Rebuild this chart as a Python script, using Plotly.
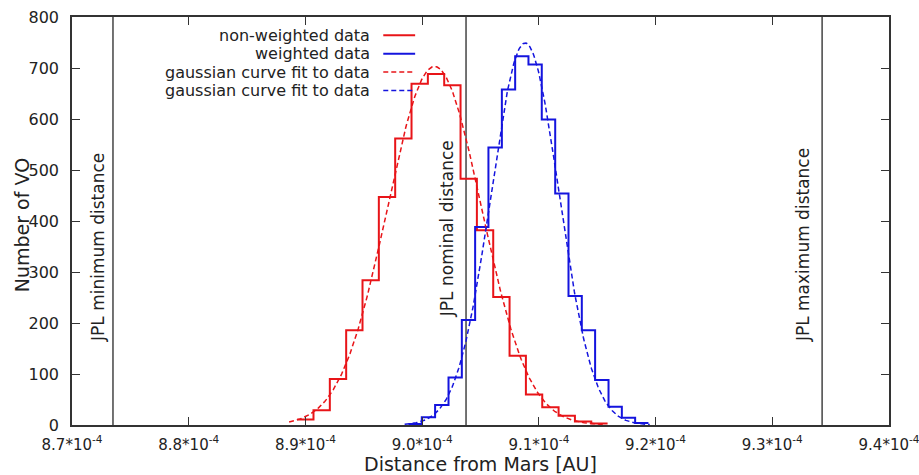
import numpy as np
import plotly.graph_objects as go

# histogram bin edges (AU) and counts
red_edges = [8.8929e-4, 8.9069e-4, 8.9209e-4, 8.9349e-4, 8.9489e-4, 8.9629e-4, 8.9769e-4,
             8.9909e-4, 9.0049e-4, 9.0189e-4, 9.0329e-4, 9.0469e-4, 9.0609e-4, 9.0749e-4,
             9.0889e-4, 9.1029e-4, 9.1169e-4, 9.1309e-4, 9.1449e-4, 9.1589e-4]
red_counts = [11, 29, 90, 186, 284, 447, 562, 669, 688, 666, 483, 382, 251, 136, 60, 35, 18, 7, 3]

blue_edges = [8.9883e-4, 8.9997e-4, 9.0111e-4, 9.0226e-4, 9.0340e-4, 9.0454e-4, 9.0568e-4,
              9.0683e-4, 9.0797e-4, 9.0911e-4, 9.1025e-4, 9.1140e-4, 9.1254e-4, 9.1368e-4,
              9.1482e-4, 9.1597e-4, 9.1711e-4, 9.1825e-4, 9.1939e-4]
blue_counts = [2, 15, 39, 93, 206, 388, 544, 658, 723, 707, 599, 454, 253, 186, 88, 36, 14, 4]

# gaussian fit parameters (amplitude, mean, sigma, plotted range)
red_fit_amp, red_fit_mu, red_fit_sigma = 703, 9.0106e-4, 4.03e-6
red_fit_range = [8.886e-4, 9.155e-4]
blue_fit_amp, blue_fit_mu, blue_fit_sigma = 749, 9.0882e-4, 2.91e-6
blue_fit_range = [8.985e-4, 9.195e-4]

# JPL reference distances
jpl_names = ["JPL minimum distance", "JPL nominal distance", "JPL maximum distance"]
jpl_values = [8.7351e-4, 9.0376e-4, 9.3427e-4]
jpl_label_y = [349, 384, 353]
jpl_label_shift = [-15, -19, -19]

x_ticks = [8.7e-4, 8.8e-4, 8.9e-4, 9.0e-4, 9.1e-4, 9.2e-4, 9.3e-4, 9.4e-4]
x_ticktext = ["8.7*10<sup>-4</sup>", "8.8*10<sup>-4</sup>", "8.9*10<sup>-4</sup>", "9.0*10<sup>-4</sup>",
              "9.1*10<sup>-4</sup>", "9.2*10<sup>-4</sup>", "9.3*10<sup>-4</sup>", "9.4*10<sup>-4</sup>"]

RED = "rgb(232,20,24)"
BLUE = "rgb(20,20,222)"
FONT = "DejaVu Sans"
TXT = "#222"


def gauss(amp, mu, sig, rng):
    x = np.linspace(rng[0], rng[1], 300)
    return x, amp * np.exp(-0.5 * ((x - mu) / sig) ** 2)


fig = go.Figure()

for v in jpl_values:
    fig.add_trace(go.Scatter(x=[v, v], y=[0, 800], mode="lines",
                             line=dict(color="#444", width=1.5), hoverinfo="skip"))

fig.add_trace(go.Scatter(x=red_edges, y=red_counts + red_counts[-1:], mode="lines",
                         line=dict(color=RED, width=2, shape="hv"), name="non-weighted data"))
fig.add_trace(go.Scatter(x=blue_edges, y=blue_counts + blue_counts[-1:], mode="lines",
                         line=dict(color=BLUE, width=2, shape="hv"), name="weighted data"))

gx, gy = gauss(red_fit_amp, red_fit_mu, red_fit_sigma, red_fit_range)
fig.add_trace(go.Scatter(x=gx, y=gy, mode="lines", name="gaussian curve fit to data",
                         line=dict(color=RED, width=1.5, dash="5px,3px")))
gx, gy = gauss(blue_fit_amp, blue_fit_mu, blue_fit_sigma, blue_fit_range)
fig.add_trace(go.Scatter(x=gx, y=gy, mode="lines", name="gaussian curve fit to data",
                         line=dict(color=BLUE, width=1.5, dash="5px,3px")))

# JPL labels, rotated along the lines
for name, v, y, s in zip(jpl_names, jpl_values, jpl_label_y, jpl_label_shift):
    fig.add_annotation(x=v, y=y, text=name, textangle=-90, showarrow=False,
                       xshift=s, font=dict(family=FONT, size=17, color=TXT))

# gnuplot-style key: text right aligned, sample line on the right
key_labels = ["non-weighted data", "weighted data", "gaussian curve fit to data", "gaussian curve fit to data"]
key_colors = [RED, BLUE, RED, BLUE]
key_dash = ["solid", "solid", "5px,3px", "5px,3px"]
key_y = [0.955, 0.910, 0.865, 0.820]
for lab, c, d, ky in zip(key_labels, key_colors, key_dash, key_y):
    fig.add_annotation(xref="paper", yref="paper", x=0.367, y=ky, text=lab, showarrow=False,
                       xanchor="right", yanchor="middle", font=dict(family=FONT, size=16, color=TXT))
    fig.add_shape(type="line", xref="paper", yref="paper", x0=0.381, x1=0.420, y0=ky, y1=ky,
                  line=dict(color=c, width=2 if d == "solid" else 1.5, dash=d))

# y title sits close to the tick labels, like gnuplot does
fig.add_annotation(xref="paper", yref="paper", x=-0.061, y=0.49, text="Number of VO",
                   textangle=-90, showarrow=False, xanchor="center", yanchor="middle",
                   font=dict(family=FONT, size=19, color=TXT))

axis_common = dict(showline=True, linecolor="#333", linewidth=1.5, mirror="ticks",
                   ticks="inside", ticklen=8, tickwidth=1.2, tickcolor="#333",
                   showgrid=False, zeroline=False, automargin=False)

fig.update_layout(
    width=919, height=475,
    margin=dict(l=72, r=30, t=17, b=50, autoexpand=False),
    paper_bgcolor="white", plot_bgcolor="white",
    showlegend=False,
    font=dict(family=FONT, color=TXT),
    xaxis=dict(range=[8.69999e-4, 9.40001e-4], tickvals=x_ticks, ticktext=x_ticktext,
               tickfont=dict(size=15), ticklabelstandoff=5, ticklabeloverflow="allow",
               title=dict(text="Distance from Mars [AU]", font=dict(size=19), standoff=2),
               **axis_common),
    yaxis=dict(range=[0, 800], dtick=100, tickfont=dict(size=16), ticklabelstandoff=8,
               **axis_common),
)

# page body margin would shift the fixed-size figure
fig.write_html("out.html", config={"displayModeBar": False},
               post_script="document.body.style.margin='0';")
